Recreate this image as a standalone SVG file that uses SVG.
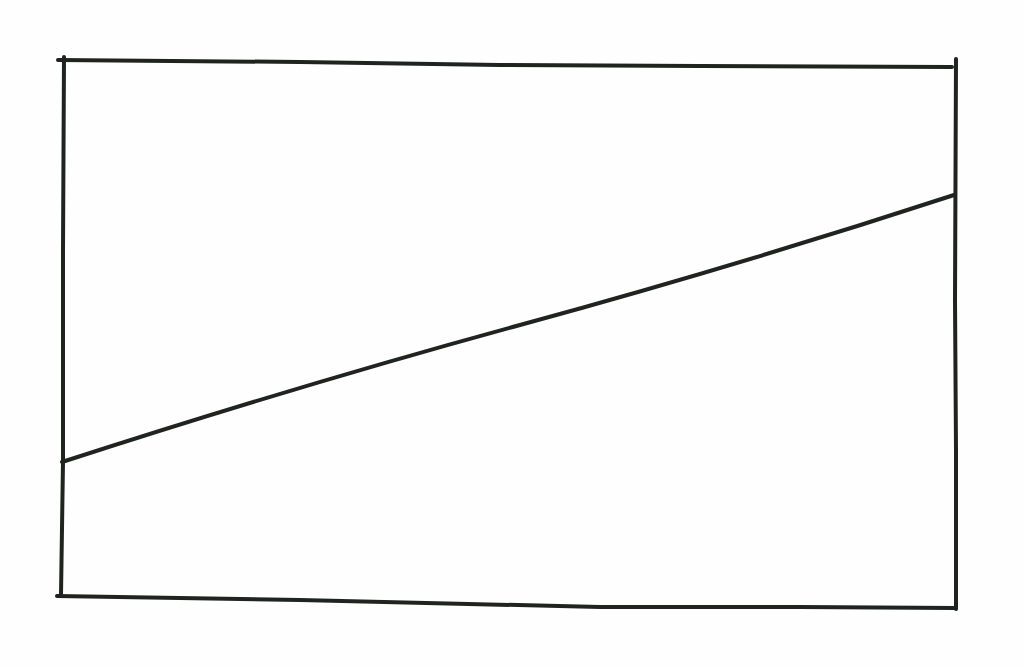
<svg xmlns="http://www.w3.org/2000/svg" width="1024" height="667" viewBox="0 0 1024 667">
<style>
.ln{fill:none;stroke:#1f2421;stroke-width:4;stroke-linecap:round;stroke-linejoin:round}
</style>
<rect width="1024" height="667" fill="#fefefe"/>
<g id="frame">
<path class="ln" d="M58,60 L300,62 L500,65 L700,66 L952,67"/>
<path class="ln" d="M64,57 L63,250 L63,462 L61,595"/>
<path class="ln" d="M956,59 L955,300 L956,450 L956,609"/>
<path class="ln" d="M57,596 L300,600 L600,607 L800,607 L955,608"/>
</g>
<g id="connectors">
<path class="ln" d="M62,462 Q300,385 520,325 T954,195"/>
</g>
</svg>
